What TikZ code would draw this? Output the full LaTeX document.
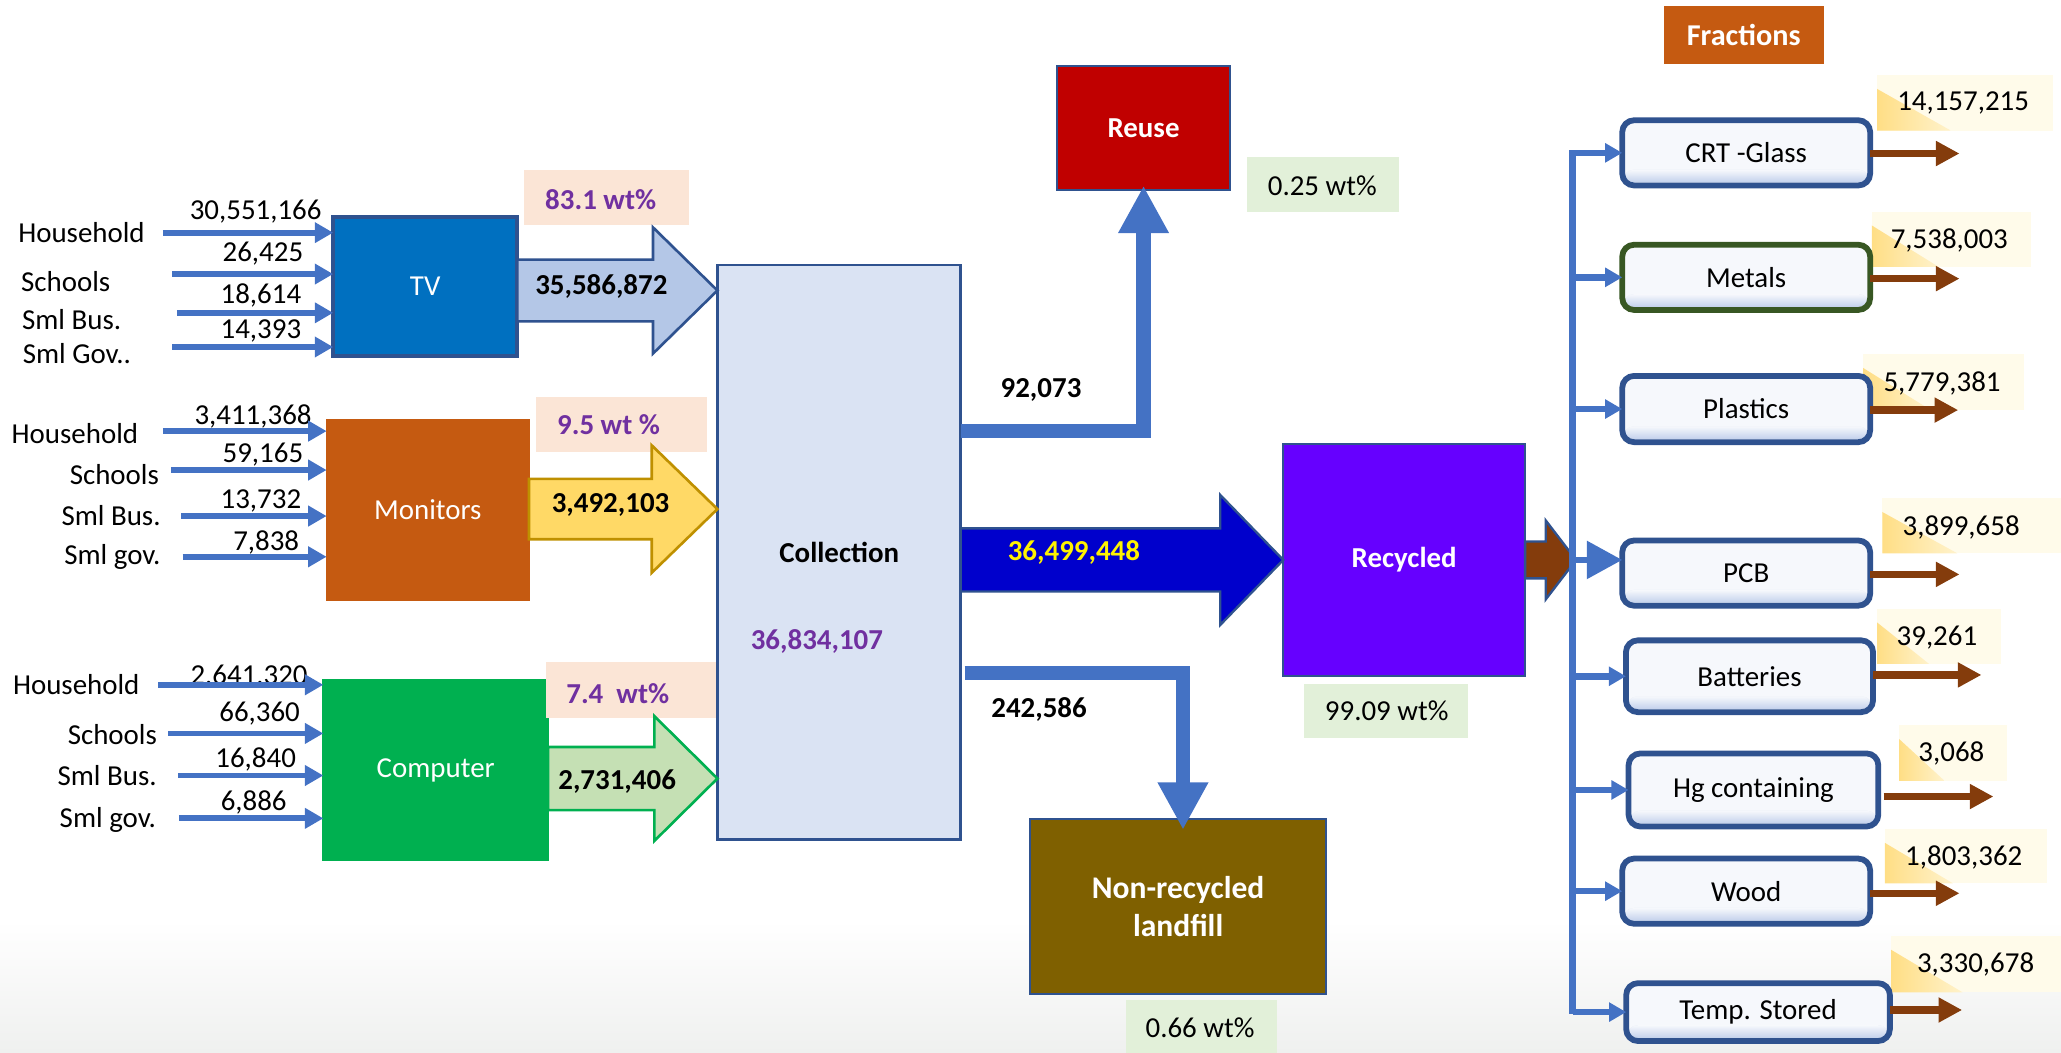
\documentclass[tikz,border=0pt]{standalone}
\usepackage{fontspec}
\setmainfont{Carlito}
\usetikzlibrary{arrows.meta,calc}

\definecolor{boxline}{HTML}{2F528F}
\definecolor{tvblue}{HTML}{0070C0}
\definecolor{monorange}{HTML}{C55A11}
\definecolor{compgreen}{HTML}{00B050}
\definecolor{collfill}{HTML}{DAE3F3}
\definecolor{reusered}{HTML}{C00000}
\definecolor{recycviolet}{HTML}{6600FF}
\definecolor{landbrown}{HTML}{7F6000}
\definecolor{linkblue}{HTML}{4472C4}
\definecolor{deepblue}{HTML}{0000CC}
\definecolor{pctpurple}{HTML}{7030A0}
\definecolor{paleorange}{HTML}{FBE5D6}
\definecolor{palegreen}{HTML}{E2F0D9}
\definecolor{tvarrowfill}{HTML}{B4C7E7}
\definecolor{monarrowfill}{HTML}{FFD966}
\definecolor{monarrowline}{HTML}{BF9000}
\definecolor{comparrowfill}{HTML}{C5E0B4}
\definecolor{outbrown}{HTML}{843C0C}
\definecolor{fracfill}{HTML}{F6F8FC}
\definecolor{fracshade}{HTML}{C3D1EC}
\definecolor{metalline}{HTML}{385723}
\definecolor{tagpale}{HTML}{FFFBEA}
\definecolor{tagyellow}{HTML}{FFDE85}
\definecolor{bggray}{HTML}{EFF0EF}

% horizontal block arrow: #1 style, #2 tail point, #3 tip point,
% #4 shaft half-width, #5 head half-width, #6 head length
\newcommand{\blockarrow}[6]{%
  \draw[#1] ($(#2)+(0,-#4)$) -- ($(#3)+(-#6,-#4)$) -- ($(#3)+(-#6,-#5)$)
    -- (#3) -- ($(#3)+(-#6,#5)$) -- ($(#3)+(-#6,#4)$) -- ($(#2)+(0,#4)$) -- cycle;}

% quantity tag: #1 name, #2..#5 box x1,y1,x2,y2, #6,#7 text centre, #8 text
\newcommand{\numtag}[8]{%
  \fill[tagpale] (#2,#3) rectangle (#4,#5);
  \shade[left color=tagyellow, right color=tagpale!70!tagyellow]
    (#2,#5) -- (#2,{#5-0.75*(#5-#3)}) -- ({#2+0.42*(#4-#2)},#5) -- cycle;
  \node[numtext] (#1) at (#6,#7) {#8};}

\begin{document}
\begin{tikzpicture}[x=0.5pt,y=-0.5pt,
  font=\fontsize{11}{13}\selectfont,
  every node/.style={inner sep=0pt, outer sep=0pt},
  unit/.style={draw=boxline, line width=0.8pt, text=white, align=center},
  srclabel/.style={text=black},
  srcval/.style={text=black},
  srcarrow/.style={draw=linkblue, line width=2.2pt, -{Triangle[length=7pt,width=7.5pt]}},
  boldval/.style={font=\bfseries\fontsize{11}{13}\selectfont, text=black},
  pcttext/.style={font=\bfseries\fontsize{11}{13}\selectfont, text=pctpurple},
  sharetext/.style={text=black},
  flowline/.style={draw=linkblue, line width=5.6pt, line join=miter,
    -{Triangle[length=18pt,width=18pt]}},
  bus/.style={draw=linkblue, line width=2.5pt, line cap=rect},
  branch/.style={draw=linkblue, line width=2.5pt, -{Triangle[length=6.5pt,width=7pt]}},
  bigbranch/.style={draw=linkblue, line width=2.5pt, -{Triangle[length=13.5pt,width=14pt]}},
  fraction/.style={draw=boxline, line width=2.2pt, rounded corners=4.5pt, fill=fracfill,
    text=black,
    path picture={\fill[fracshade!35!fracfill] (path picture bounding box.south west)
        rectangle ([yshift=6pt]path picture bounding box.south east);
      \shade[top color=fracfill, bottom color=fracshade]
        ([yshift=6pt]path picture bounding box.south west)
        rectangle ([yshift=1.2pt]path picture bounding box.south east);}},
  outarrow/.style={draw=outbrown, line width=2.8pt, -{Triangle[length=9pt,width=9pt]}},
  numtext/.style={text=black},
]
\useasboundingbox (0,0) rectangle (1568,801);

% soft grey floor of the page
\shade[top color=white, bottom color=bggray] (0,700) rectangle (1568,801);

% ---------------- product groups ----------------
\node[unit, draw=boxline, line width=1.6pt, fill=tvblue, minimum width=70pt, minimum height=53pt]
  (tv) at (323.5,218) {TV};
\node[unit, draw=monorange, fill=monorange, minimum width=77pt, minimum height=68.5pt]
  (mon) at (325.5,387.8) {Monitors};
\node[unit, draw=compgreen, fill=compgreen, minimum width=85.5pt, minimum height=68.5pt]
  (comp) at (331.5,585.8) {Computer};

% TV sources
\node[srclabel] (tvhh) at (62,177) {Household};
\node[srclabel] (tvsc) at (50,214.5) {Schools};
\node[srclabel] (tvsb) at (54.5,243.5) {Sml Bus.};
\node[srclabel] (tvsg) at (58.5,269) {Sml Gov..};
\node[srcval] (tvhhv) at (194.5,161) {30,551,166};
\node[srcval] (tvscv) at (200,193) {26,425};
\node[srcval] (tvsbv) at (198.5,225) {18,614};
\node[srcval] (tvsgv) at (198.5,252) {14,393};
\coordinate (tvhhA) at (124,177);
\coordinate (tvscA) at (131,208.5);
\coordinate (tvsbA) at (134.5,238);
\coordinate (tvsgA) at (131,264);
\foreach \s in {tvhhA,tvscA,tvsbA,tvsgA} \draw[srcarrow] (\s) -- (\s -| tv.west);

% Monitor sources
\node[srclabel] (mohh) at (57,329.5) {Household};
\node[srclabel] (mosc) at (87,361.4) {Schools};
\node[srclabel] (mosb) at (84.5,392) {Sml Bus.};
\node[srclabel] (mosg) at (85.5,423.6) {Sml gov.};
\node[srcval] (mohhv) at (192.5,317) {3,411,368};
\node[srcval] (moscv) at (200,346) {59,165};
\node[srcval] (mosbv) at (198.5,381) {13,732};
\node[srcval] (mosgv) at (202.5,412.5) {7,838};
\coordinate (mohhA) at (124,328);
\coordinate (moscA) at (130,357.6);
\coordinate (mosbA) at (138,392.6);
\coordinate (mosgA) at (139,423.6);
\foreach \s in {mohhA,moscA,mosbA,mosgA} \draw[srcarrow] (\s) -- (\s -| mon.west);

% Computer sources
\node[srclabel] (cohh) at (58,521) {Household};
\node[srclabel] (cosc) at (85.5,559) {Schools};
\node[srclabel] (cosb) at (81.5,590) {Sml Bus.};
\node[srclabel] (cosg) at (82,624) {Sml gov.};
\node[srcval] (cohhv) at (189.5,514.5) {2,641,320};
\node[srcval] (coscv) at (197.5,543) {66,360};
\node[srcval] (cosbv) at (194.5,577.5) {16,840};
\node[srcval] (cosgv) at (193,610.5) {6,886};
\coordinate (cohhA) at (120.5,521);
\coordinate (coscA) at (128,558);
\coordinate (cosbA) at (135.5,590);
\coordinate (cosgA) at (136,622.6);
\foreach \s in {cohhA,coscA,cosbA,cosgA} \draw[srcarrow] (\s) -- (\s -| comp.west);

% ---------------- collection ----------------
\node[draw=boxline, line width=0.9pt, fill=collfill, minimum width=92.5pt, minimum height=218.5pt]
  (coll) at (638.3,420.3) {};
\node[boldval] (colltitle) at (638.5,420) {Collection};
\node[pcttext] (colltotal) at (621.5,488) {36,834,107};

% weight shares of the three groups
\fill[paleorange] (399,129) rectangle (524,171);
\node[pcttext] (tvpct) at (457,152) {83.1 wt\%};
\fill[paleorange] (408,302) rectangle (538,344);
\node[pcttext] (monpct) at (463,323) {9.5 wt \%};
\fill[paleorange] (415.5,504) rectangle (545,546);
\node[pcttext] (comppct) at (470,528) {7.4\ \ wt\%};

% group flows into collection
\coordinate (tvT) at ($(tv.east)+(0,3)$);
\coordinate (tvH) at (tvT -| coll.west);
\blockarrow{draw=boxline, line width=1pt, fill=tvarrowfill}{tvT}{tvH}{23.5}{48}{49}
\node[boldval] (tvflow) at (457.5,218) {35,586,872};

\coordinate (monT) at ($(mon.east)+(0,-0.5)$);
\coordinate (monH) at (monT -| coll.west);
\blockarrow{draw=monarrowline, line width=1pt, fill=monarrowfill}{monT}{monH}{23}{48.5}{50}
\node[boldval] (monflow) at (464.5,384) {3,492,103};

\coordinate (compT) at ($(comp.east)+(0,6.5)$);
\coordinate (compH) at (compT -| coll.west);
\blockarrow{draw=compgreen, line width=1pt, fill=comparrowfill}{compT}{compH}{24}{47.5}{48}
\node[boldval] (compflow) at (469.5,595) {2,731,406};

% ---------------- destinations ----------------
\node[unit, fill=reusered, minimum width=66pt, minimum height=47pt,
  font=\bfseries\fontsize{11}{13}\selectfont] (reuse) at (870,97.3) {Reuse};
\fill[palegreen] (949,119.5) rectangle (1064,161);
\node[sharetext] (reusepct) at (1006,141) {0.25 wt\%};

\node[unit, fill=recycviolet, minimum width=92pt, minimum height=88.5pt,
  font=\bfseries\fontsize{11}{13}\selectfont] (recyc) at (1068.3,426) {Recycled};
\fill[palegreen] (992,520.6) rectangle (1117,561.6);
\node[sharetext] (recycpct) at (1055,541) {99.09 wt\%};

\node[unit, fill=landbrown, minimum width=112.5pt, minimum height=66.5pt,
  font=\bfseries\fontsize{12}{14.5}\selectfont] (land) at (896.3,689.8) {Non-recycled\\landfill};
\fill[palegreen] (856.6,761) rectangle (971.5,801);
\node[sharetext] (landpct) at (913,782) {0.66 wt\%};

% collection to reuse
\coordinate (reuseS) at ($(coll.east)+(0,-92.3)$);
\draw[flowline] (reuseS) -| ($(reuse.south)+(0,-3)$);
\node[boldval] (reuseval) at (792,297) {92,073};

% collection to landfill
\coordinate (landS) at ($(coll.east)+(3,91.7)$);
\draw[flowline] (landS) -| ($(land.north)+(3.7,8)$);
\node[boldval] (landval) at (790.5,539.6) {242,586};

% collection to recycling
\coordinate (recT) at (coll.east |- recyc.west);
\blockarrow{draw=boxline, line width=0.9pt, fill=deepblue}{recT}{recyc.west}{24}{49.5}{48}
\node[font=\bfseries\fontsize{11}{13}\selectfont, text=yellow] (recval) at (817,420.6) {36,499,448};

% ---------------- fractions ----------------
\node[fill=monorange, minimum width=61pt, minimum height=22pt, text=white,
  font=\bfseries\fontsize{11.5}{14}\selectfont] (fractitle) at (1326.6,26.8) {Fractions};

\coordinate (busTop) at (1196.5,116.5);
\coordinate (busBot) at (1196.5,769);

% quantity tags (behind the fraction boxes)
\numtag{crtq}{1428}{57}{1562}{99.4}{1493.5}{78.6}{14,157,215}
\numtag{metq}{1424}{161}{1545}{203}{1483}{182.6}{7,538,003}
\numtag{plaq}{1417.5}{269.3}{1540}{312}{1477.5}{291.4}{5,779,381}
\numtag{pcbq}{1432}{379}{1568}{421}{1492}{401}{3,899,658}
\numtag{batq}{1428}{463}{1522}{505}{1473.6}{485}{39,261}
\numtag{hgq}{1444.8}{551.6}{1527}{594}{1484.6}{573}{3,068}
\numtag{wooq}{1434}{631}{1557}{672}{1494}{652}{1,803,362}
\numtag{temq}{1439}{712}{1568}{755}{1503}{734}{3,330,678}

\node[fraction, minimum width=94.3pt, minimum height=24.8pt] (crt) at (1328.5,116.3) {CRT -Glass};
\node[fraction, draw=metalline, minimum width=94.3pt, minimum height=24.8pt] (metals) at (1328.5,211) {Metals};
\node[fraction, minimum width=94.3pt, minimum height=25.2pt] (plastics) at (1328.5,311.2) {Plastics};
\node[fraction, minimum width=94.3pt, minimum height=24.8pt] (pcb) at (1328.5,436) {PCB};
\node[fraction, minimum width=94pt, minimum height=27.3pt] (batt) at (1331,514.5) {Batteries};
\node[fraction, minimum width=95pt, minimum height=27.8pt] (hg) at (1334,601) {Hg containing};
\node[fraction, minimum width=94.3pt, minimum height=24.8pt] (wood) at (1328.5,678) {Wood};
\node[fraction, minimum width=100.3pt, minimum height=22pt] (temp) at (1337.5,770) {Temp. Stored};

% recycled stream into the distribution bus
\coordinate (busIn) at ($(busTop |- recyc.east)+(2.5,0)$);
\blockarrow{draw=boxline, line width=0.9pt, fill=outbrown}{recyc.east}{busIn}{14}{30}{23}

% distribution bus and branches
\draw[bus] (busTop) -- (busBot);
\foreach \b in {crt,metals,plastics,batt,hg,wood,temp}
  \draw[branch] (busTop |- \b.west) -- (\b.west);
\draw[bigbranch] (busTop |- recyc.east) -- (pcb.west |- recyc.east);

% fraction outputs
\draw[outarrow] ($(crt.east)+(0,0.5)$) -- ++(68,0);
\draw[outarrow] ($(metals.east)+(0,1)$) -- ++(68,0);
\draw[outarrow] ($(plastics.east)+(0,0.8)$) -- ++(67,0);
\draw[outarrow] ($(pcb.east)+(0,1)$) -- ++(68,0);
\draw[outarrow] ($(batt.east)+(0,-1)$) -- ++(82.5,0);
\draw[outarrow] ($(hg.east)+(4,5)$) -- ++(83.6,0);
\draw[outarrow] ($(wood.east)+(0,1.6)$) -- ++(68,0);
\draw[outarrow] ($(temp.east)+(0,-1.6)$) -- ++(55,0);
\end{tikzpicture}
\end{document}
